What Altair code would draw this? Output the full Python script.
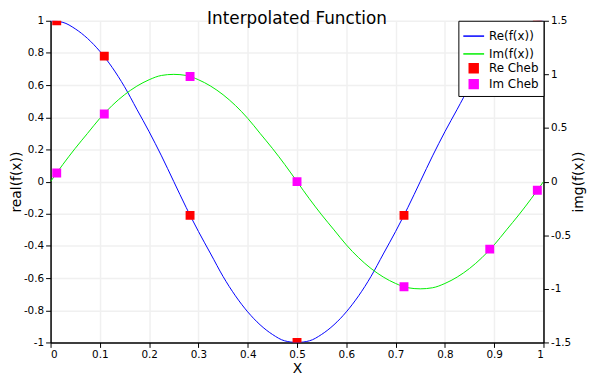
import altair as alt
import pandas as pd

# ---- data ----
xs = [0.0, 0.025, 0.05, 0.075, 0.1, 0.125, 0.15, 0.175, 0.2, 0.225, 0.25,
      0.275, 0.3, 0.325, 0.35, 0.375, 0.4, 0.425, 0.45, 0.475, 0.5,
      0.525, 0.55, 0.575, 0.6, 0.625, 0.65, 0.675, 0.7, 0.725, 0.75,
      0.775, 0.8, 0.825, 0.85, 0.875, 0.9, 0.925, 0.95, 0.975, 1.0]
re_vals = [1.0, 0.99, 0.95, 0.89, 0.81, 0.71, 0.59, 0.45, 0.31, 0.16, 0.0,
           -0.16, -0.31, -0.45, -0.59, -0.71, -0.81, -0.89, -0.95, -0.99, -1.0,
           -0.99, -0.95, -0.89, -0.81, -0.71, -0.59, -0.45, -0.31, -0.16, 0.0,
           0.16, 0.31, 0.45, 0.59, 0.71, 0.81, 0.89, 0.95, 0.99, 1.0]
im_vals = [0.0, 0.16, 0.31, 0.45, 0.59, 0.71, 0.81, 0.89, 0.95, 0.99, 1.0,
           0.99, 0.95, 0.89, 0.81, 0.71, 0.59, 0.45, 0.31, 0.16, 0.0,
           -0.16, -0.31, -0.45, -0.59, -0.71, -0.81, -0.89, -0.95, -0.99, -1.0,
           -0.99, -0.95, -0.89, -0.81, -0.71, -0.59, -0.45, -0.31, -0.16, 0.0]

cheb_x = [0.0125, 0.109, 0.283, 0.5, 0.717, 0.891, 0.9875]
cheb_re = [1.0, 0.78, -0.21, -1.0, -0.21, 0.78, 1.0]
cheb_im = [0.08, 0.63, 0.98, 0.0, -0.98, -0.63, -0.08]

series_names = ["Re(f(x))", "Im(f(x))", "Re Cheb", "Im Cheb"]
series_colors = ["#0000ff", "#00ee00", "#ff0000", "#ff00ff"]
series_shapes = ["stroke", "stroke", "square", "square"]
series_sizes = [441, 441, 81, 81]

x_ticks = [0, 0.1, 0.2, 0.3, 0.4, 0.5, 0.6, 0.7, 0.8, 0.9, 1]
left_ticks = [-1, -0.8, -0.6, -0.4, -0.2, 0, 0.2, 0.4, 0.6, 0.8, 1]
right_ticks = [-1.5, -1, -0.5, 0, 0.5, 1, 1.5]

# ---- tables ----
re_line = pd.DataFrame({"x": xs, "v": re_vals, "s": series_names[0]})
im_line = pd.DataFrame({"x": xs, "v": im_vals, "s": series_names[1]})
re_pts = pd.DataFrame({"x": cheb_x, "v": cheb_re, "s": series_names[2]})
im_pts = pd.DataFrame({"x": cheb_x, "v": cheb_im, "s": series_names[3]})

FONT = "DejaVu Sans"

legend = alt.Legend(
    title=None,
    orient="top-right",
    offset=0,
    padding=4,
    strokeColor="black",
    fillColor="white",
    labelFont=FONT,
    labelFontSize=12,
    labelColor="black",
    labelOffset=4,
    rowPadding=0,
    symbolStrokeWidth=1.5,
    symbolOpacity=1,
)

color = alt.Color("s:N", scale=alt.Scale(domain=series_names, range=series_colors), legend=legend)
shape = alt.Shape("s:N", scale=alt.Scale(domain=series_names, range=series_shapes), legend=legend)
size = alt.Size("s:N", scale=alt.Scale(type="ordinal", domain=series_names, range=series_sizes), legend=legend)

xenc = alt.X(
    "x:Q",
    scale=alt.Scale(domain=[0, 1], nice=False),
    axis=alt.Axis(title="X", values=x_ticks, labelExpr="'' + datum.value", titlePadding=2),
)

y_left = alt.Y(
    "v:Q",
    scale=alt.Scale(domain=[-1, 1], nice=False),
    axis=alt.Axis(title="real(f(x))", values=left_ticks, labelExpr="'' + datum.value",
                  orient="left", titlePadding=0),
)
y_right = alt.Y(
    "v:Q",
    scale=alt.Scale(domain=[-1.5, 1.5], nice=False),
    axis=alt.Axis(title="img(f(x))", values=right_ticks, labelExpr="'' + datum.value",
                  orient="right", titleAngle=270, titleBaseline="top", titlePadding=1),
)

line_re = alt.Chart(re_line).mark_line(strokeWidth=1, clip=True, interpolate="monotone").encode(
    x=xenc, y=y_left, color=color)
pts_re = alt.Chart(re_pts).mark_point(filled=True, opacity=1, clip=True).encode(
    x=xenc, y=y_left, color=color, shape=shape, size=size)
line_im = alt.Chart(im_line).mark_line(strokeWidth=1, clip=True, interpolate="monotone").encode(
    x=xenc, y=y_right, color=color)
pts_im = alt.Chart(im_pts).mark_point(filled=True, opacity=1, clip=True).encode(
    x=xenc, y=y_right, color=color, shape=shape, size=size)

left = alt.layer(line_re, pts_re)
right = alt.layer(line_im, pts_im)

chart = alt.layer(left, right).resolve_scale(y="independent").properties(
    width=498,
    height=325,
    autosize=alt.AutoSizeParams(type="none"),
    padding={"left": 43, "top": 11, "right": 48, "bottom": 31},
    title=alt.Title("Interpolated Function", font=FONT, fontSize=17,
                    fontWeight="normal", color="black", anchor="middle", offset=2, dy=14),
).configure_view(
    stroke=None
).configure_axis(
    labelFont=FONT,
    labelFontSize=10.5,
    labelColor="black",
    titleFont=FONT,
    titleFontSize=14,
    titleFontWeight="normal",
    titleColor="black",
    domainColor="black",
    domainWidth=1.5,
    tickColor="black",
    tickSize=5,
    labelPadding=2,
    grid=True,
    gridColor="#f0f0f0",
    gridWidth=1.5,
)

chart.save("out.html", embed_options={"renderer": "svg", "actions": False})
